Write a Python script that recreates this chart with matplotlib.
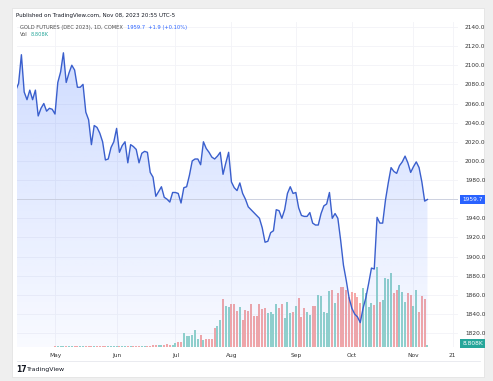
import numpy as np
import pandas as pd
import matplotlib
matplotlib.use("Agg")
import matplotlib.pyplot as plt
from matplotlib.patches import Polygon, Rectangle
from matplotlib.transforms import offset_copy

# ---------------- data ----------------
start_date = "2023-04-11"
end_date = "2023-11-08"
holidays = ["2023-05-29", "2023-06-19", "2023-07-04", "2023-09-04"]

close = [
    2074, 2081, 2111, 2072, 2064, 2074, 2064, 2074, 2047, 2055, 2060, 2052, 2055, 2054,   # Apr 11-28
    2049, 2082, 2093, 2113, 2082, 2092, 2100, 2095, 2077, 2077, 2080, 2051, 2043, 2017,   # May
    2037, 2035, 2029, 2020, 2001, 2002, 2014, 2020,
    2034, 2009, 2016, 2020, 1998, 2017, 2015, 2012, 1998, 2008, 2010, 2009, 1988, 1983,   # Jun
    1963, 1968, 1973, 1962, 1960, 1957, 1967,
    1967, 1966, 1956, 1972, 1973, 1985, 2000, 2002, 2002, 1996, 2020, 2013, 2009, 2004,   # Jul
    2002, 2005, 2009, 1986, 1998, 2009,
    1978, 1972, 1969, 1977, 1966, 1960, 1952, 1949, 1946, 1943, 1940, 1930, 1915, 1916,   # Aug
    1925, 1927, 1949, 1948, 1940, 1949, 1966, 1973, 1966,
    1967, 1951, 1943, 1942, 1942, 1946, 1935, 1933, 1933, 1945, 1953, 1955, 1967, 1940,   # Sep
    1945, 1940, 1917, 1891, 1875, 1857,
    1846, 1840, 1837, 1831, 1846, 1857, 1872, 1888, 1887, 1941, 1935, 1935, 1959, 1977,   # Oct
    1993, 1989, 1987, 1995, 1999, 2005, 1998, 1988,
    1994, 1999, 1993, 1978, 1958, 1959.7,                                                 # Nov
]

volume_k = [
    2, 2, 2, 2, 2, 2, 2, 2, 2, 2, 2, 2, 2, 2,
    4, 4, 5, 4, 5, 4, 5, 4, 4, 3, 3, 3, 3, 3,
    3, 3, 3, 3, 3, 3, 3, 3,
    3, 3, 3, 3, 3, 3, 3, 3, 3, 3, 3, 4, 6, 7,
    8, 9, 8, 10, 12, 10, 9,
    16, 19, 20, 56, 44, 44, 48, 68, 32, 48, 28, 32, 32, 32,
    76, 84, 108, 192, 164, 160,
    172, 172, 144, 160, 108, 148, 144, 172, 124, 124, 172, 152, 156, 136,
    140, 132, 172, 156, 172, 116, 180, 136, 140,
    164, 196, 120, 156, 140, 128, 164, 164, 208, 204, 140, 136, 224, 228,
    176, 216, 240, 240, 228, 200,
    220, 216, 200, 176, 236, 216, 160, 176, 168, 320, 180, 188, 276, 272,
    296, 216, 228, 248, 220, 180, 216, 208,
    164, 228, 140, 204, 192, 8.808,
]

month_labels = ["May", "Jun", "Jul", "Aug", "Sep", "Oct", "Nov"]
future_tick_date = "2023-11-21"
future_tick_label = "21"
price_ticks = list(range(1820, 2141, 20))
last_price = 1959.7
change_text = "+1.9 (+0.10%)"
last_vol_text = "8.808K"
title_text = "GOLD FUTURES (DEC 2023), 1D, COMEX"
published_text = "Published on TradingView.com, Nov 08, 2023 20:55 UTC-5"

# ---------------- layout ----------------
W, H = 493, 381
fig = plt.figure(figsize=(W / 100, H / 100), dpi=100)
fig.patch.set_facecolor("#efefef")

def fx(px):
    return px / W

def fy(py):
    return 1 - py / H

# white panel (behind everything)
fig.patches.append(Rectangle((fx(12), fy(377)), fx(484) - fx(12), fy(8) - fy(377),
                             transform=fig.transFigure, facecolor="white",
                             edgecolor="#e3e3e3", linewidth=0.6, zorder=-5))

dates = pd.bdate_range(start_date, end_date)
dates = dates[~dates.isin(pd.to_datetime(holidays))]
x = np.arange(len(dates))
close_arr = np.array(close, dtype=float)
vol_arr = np.array(volume_k, dtype=float)

left, right, top, bottom = 17, 458, 22, 347
rect = [fx(left), fy(bottom), fx(right) - fx(left), fy(top) - fy(bottom)]
ax_v = fig.add_axes(rect, zorder=1)
ax = fig.add_axes(rect, zorder=2)
ax.patch.set_visible(False)
ax_v.set_facecolor("white")

ylo, yhi = 1805.5, 2145.2
xlo, xhi = 0.43, 157.9
VTOP = 1300
ax.set_xlim(xlo, xhi)
ax.set_ylim(ylo, yhi)
ax_v.set_xlim(xlo, xhi)
ax_v.set_ylim(0, VTOP)

# ticks
month_starts = []
for m in [5, 6, 7, 8, 9, 10, 11]:
    idx = int(np.where(dates.month == m)[0][0])
    month_starts.append(idx)
future = pd.bdate_range(dates[-1] + pd.Timedelta(days=1), future_tick_date)
future_idx = len(dates) - 1 + len(future)
xt = month_starts + [future_idx]
xl = month_labels + [future_tick_label]

# grid
for v in xt:
    ax_v.axvline(v, color="#f2f3f7", lw=0.6, zorder=0)
for p in price_ticks:
    ax_v.axhline((p - ylo) / (yhi - ylo) * VTOP, color="#f2f3f7", lw=0.6, zorder=0)

# volume bars
up = np.r_[True, close_arr[1:] >= close_arr[:-1]]
vcols = np.where(up, "#93d3cb", "#f5a8a7")
ax_v.bar(x, vol_arr, width=0.72, color=vcols, zorder=2)

# gradient fill under the price line
n = 256
rgba = np.zeros((n, 1, 4))
rgba[..., 0] = 41 / 255
rgba[..., 1] = 98 / 255
rgba[..., 2] = 1.0
rgba[..., 3] = np.linspace(0.24, 0.03, n)[:, None]
im = ax.imshow(rgba, extent=[xlo, xhi, ylo, yhi], origin="upper", aspect="auto",
               zorder=1, interpolation="bilinear")
verts = [(x[0], ylo)] + list(zip(x, close_arr)) + [(x[-1], ylo)]
clip = Polygon(verts, closed=True, transform=ax.transData, facecolor="none", edgecolor="none")
ax.add_patch(clip)
im.set_clip_path(clip)

# last price line
ax.axhline(last_price, color="#c7ccdc", lw=0.6, zorder=2)
# price line
ax.plot(x, close_arr, color="#3a5fcd", lw=1.0, zorder=3)

for a in (ax, ax_v):
    for s in a.spines.values():
        s.set_visible(False)

ax_v.set_xticks(xt)
ax_v.set_xticklabels(xl)
ax_v.tick_params(axis="x", length=0, pad=4.5, labelsize=4.2, colors="#333333")
ax_v.set_yticks([])
ax.set_xticks([])
ax.yaxis.tick_right()
ax.set_yticks(price_ticks)
ax.set_yticklabels(["" if abs(p - last_price) < 10 else f"{p:.1f}" for p in price_ticks])
ax.tick_params(axis="y", length=0, pad=5, labelsize=4.2, colors="#333333")

# price label box
ax.annotate(f"{last_price:.1f}", xy=(1.0, last_price), xycoords=("axes fraction", "data"),
            xytext=(3.0, 0), textcoords="offset points", va="center", ha="left",
            fontsize=4.2, color="white", zorder=5, annotation_clip=False,
            bbox=dict(boxstyle="square,pad=0.35", fc="#2962ff", ec="none"))
# volume label box
ax.annotate(last_vol_text, xy=(1.0, 0), xycoords="axes fraction",
            xytext=(3.0, 2.4), textcoords="offset points", va="center", ha="left",
            fontsize=4.2, color="white", zorder=5, annotation_clip=False,
            bbox=dict(boxstyle="square,pad=0.35", fc="#26a69a", ec="none"))

# separator line under time axis
fig.add_artist(plt.Line2D([fx(17), fx(480)], [fy(361), fy(361)], color="#e6e8ee", lw=0.6))

# header texts
HS = 3.7
fig.text(fx(16), fy(15), published_text, fontsize=4.0, color="#131722", va="center")
t1 = fig.text(fx(20), fy(27), title_text, fontsize=HS, color="#4a4a4a", va="center")
fig.text(1.0, 0.0, f"{last_price:.1f}  {change_text}", fontsize=HS, color="#2962ff", va="center",
         transform=offset_copy(t1.get_transform(), fig=fig, x=0, y=0), visible=False)
fig.canvas.draw()
bb = t1.get_window_extent()
fig.text((bb.x1 + 4) / W, fy(27), f"{last_price:.1f}  {change_text}", fontsize=HS,
         color="#2962ff", va="center")
t2 = fig.text(fx(20), fy(35), "Vol", fontsize=HS, color="#4a4a4a", va="center")
fig.canvas.draw()
bb2 = t2.get_window_extent()
fig.text((bb2.x1 + 3) / W, fy(35), last_vol_text, fontsize=HS, color="#26a69a", va="center")

# footer logo
fig.text(fx(16), fy(369), "17", fontsize=5.5, color="#131722", va="center", fontweight="bold")
fig.text(fx(27), fy(369), "TradingView", fontsize=4.5, color="#131722", va="center")

fig.savefig("out.png", dpi=100, facecolor=fig.get_facecolor())
